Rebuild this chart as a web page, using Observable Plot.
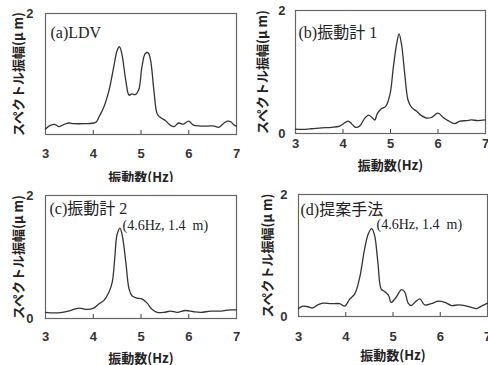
<!DOCTYPE html>
<html><head><meta charset="utf-8">
<script src="https://cdn.jsdelivr.net/npm/d3@7"></script>
<script src="https://cdn.jsdelivr.net/npm/@observablehq/plot@0.6"></script>
<style>
html,body{margin:0;padding:0;background:#fff;}
#wrap{position:relative;width:488px;height:365px;overflow:hidden;background:#fff;}
.panel{position:absolute;}
</style></head><body><div id="wrap"></div>
<script>
const xTicks = [3, 4, 5, 6, 7];
const innerTicks = [4, 5, 6];
const yLabel = "スペクトル振幅(μ m)";
const xLabel = "振動数(Hz)";

const freqA = [3.0,3.1,3.2,3.28,3.38,3.49,3.59,3.8,4.05,4.12,4.22,4.33,4.43,4.5,4.55,4.6,4.68,4.75,4.81,4.88,4.95,5.02,5.09,5.15,5.2,5.27,5.34,5.41,5.51,5.62,5.69,5.79,5.88,6.0,6.1,6.25,6.39,6.53,6.63,6.74,6.81,6.88,6.95,7.0];
const ampA  = [0.09,0.15,0.165,0.13,0.165,0.19,0.18,0.18,0.2,0.29,0.45,0.73,1.12,1.39,1.45,1.33,0.9,0.65,0.67,0.66,0.73,1.12,1.34,1.35,1.23,0.73,0.34,0.28,0.23,0.15,0.13,0.19,0.17,0.22,0.155,0.14,0.14,0.14,0.12,0.19,0.22,0.21,0.155,0.14];

const freqB = [3.0,3.13,3.34,3.55,3.76,3.93,4.04,4.11,4.18,4.26,4.35,4.46,4.54,4.61,4.67,4.72,4.8,4.9,4.99,5.06,5.13,5.18,5.23,5.3,5.37,5.44,5.55,5.65,5.76,5.86,6.0,6.11,6.21,6.35,6.46,6.6,6.7,6.84,7.0];
const ampB  = [0.07,0.066,0.077,0.093,0.1,0.12,0.175,0.2,0.16,0.1,0.12,0.25,0.3,0.26,0.22,0.32,0.4,0.44,0.64,1.08,1.46,1.62,1.46,0.97,0.54,0.43,0.36,0.29,0.25,0.26,0.33,0.26,0.21,0.16,0.2,0.21,0.22,0.21,0.22];

const freqC = [3.0,3.17,3.35,3.52,3.7,3.84,4.01,4.12,4.22,4.33,4.4,4.45,4.5,4.56,4.61,4.68,4.75,4.81,4.92,5.02,5.13,5.23,5.34,5.48,5.62,5.76,5.93,6.1,6.25,6.46,6.67,6.87,7.0];
const ampC  = [0.1,0.09,0.1,0.13,0.17,0.15,0.17,0.24,0.29,0.43,0.6,0.98,1.37,1.47,1.34,0.93,0.48,0.37,0.33,0.32,0.25,0.15,0.1,0.1,0.12,0.1,0.13,0.11,0.1,0.12,0.12,0.14,0.14];

const freqD = [3.0,3.09,3.2,3.3,3.41,3.52,3.69,3.87,3.98,4.08,4.19,4.29,4.4,4.48,4.55,4.61,4.68,4.75,4.82,4.91,4.96,5.07,5.18,5.25,5.32,5.39,5.46,5.57,5.67,5.81,5.95,6.1,6.24,6.38,6.52,6.66,6.77,6.87,7.0];
const ampD  = [0.13,0.17,0.16,0.14,0.19,0.22,0.21,0.21,0.17,0.28,0.37,0.62,1.11,1.36,1.44,1.33,0.89,0.45,0.41,0.34,0.23,0.32,0.44,0.4,0.22,0.18,0.23,0.29,0.19,0.21,0.25,0.23,0.18,0.19,0.18,0.15,0.13,0.17,0.22];

const titles = ["(a)LDV", "(b)振動計 1", "(c)振動計 2", "(d)提案手法"];
const peakNote = "(4.6Hz, 1.4  m)";

const panels = [
  {freq: freqA, amp: ampA, title: titles[0], note: null, yTicks: [2],
   left: 0, top: 0, width: 244, height: 182, mL: 45, mR: 8, mT: 13, mB: 48,
   xPad: 14, xLabOff: 47, yPad: 12, yLabOff: 32, tdx: 5, tdy: 19},
  {freq: freqB, amp: ampB, title: titles[1], note: null, yTicks: [0, 2],
   left: 244, top: 0, width: 244, height: 182, mL: 51, mR: 3, mT: 10, mB: 49,
   xPad: 5, xLabOff: 36, yPad: 10, yLabOff: 38, tdx: 3, tdy: 22},
  {freq: freqC, amp: ampC, title: titles[2], note: peakNote, yTicks: [0, 2],
   left: 0, top: 182, width: 244, height: 183, mL: 45, mR: 8, mT: 13, mB: 47,
   xPad: 13, xLabOff: 44, yPad: 12, yLabOff: 32, tdx: 4, tdy: 13, ndx: 77, ndy: 30},
  {freq: freqD, amp: ampD, title: titles[3], note: peakNote, yTicks: [0, 2],
   left: 244, top: 182, width: 244, height: 183, mL: 54, mR: 1, mT: 12, mB: 49,
   xPad: 15, xLabOff: 43, yPad: 11, yLabOff: 36, tdx: 2, tdy: 15, ndx: 78, ndy: 30}
];

const wrap = document.getElementById("wrap");
const serif = "'Liberation Serif','Times New Roman','Noto Sans CJK JP',serif";
const gothic = "'Noto Sans CJK JP','Liberation Sans',sans-serif";
const digits = "'Liberation Sans',Arial,sans-serif";

for (const p of panels) {
  const data = p.freq.map((f, i) => ({f, a: p.amp[i]}));
  const marks = [
    Plot.frame({stroke: "#666", strokeWidth: 1.2}),
    Plot.axisX({ticks: innerTicks, tickSize: -4, tickFormat: () => "", label: null, stroke: "#444"}),
    Plot.axisX({ticks: xTicks, tickSize: 0, tickPadding: p.xPad, label: xLabel, labelAnchor: "center",
      labelOffset: p.xLabOff, labelArrow: "none", fontSize: 13, fontWeight: "bold", fill: "#333",
      fontFamily: digits, tickFormat: d => String(d)}),
    Plot.axisY({ticks: p.yTicks, tickSize: 0, tickPadding: p.yPad, label: yLabel, labelAnchor: "center",
      labelOffset: p.yLabOff, labelArrow: "none", fontSize: 13, fontWeight: "bold", fill: "#333",
      fontFamily: digits, tickFormat: d => String(d)}),
    Plot.line(data, {x: "f", y: "a", curve: "catmull-rom", stroke: "#333", strokeWidth: 1.3}),
    Plot.text([p.title], {frameAnchor: "top-left", dx: p.tdx, dy: p.tdy, textAnchor: "start",
      lineAnchor: "middle", fontSize: 16, fontFamily: serif, fill: "#222"})
  ];
  if (p.note) {
    marks.push(Plot.text([p.note], {frameAnchor: "top-left", dx: p.ndx, dy: p.ndy, textAnchor: "start",
      lineAnchor: "middle", fontSize: 14, fontFamily: serif, fill: "#222"}));
  }
  const chart = Plot.plot({
    width: p.width, height: p.height,
    marginLeft: p.mL, marginRight: p.mR, marginTop: p.mT, marginBottom: p.mB,
    x: {domain: [3, 7]},
    y: {domain: [0, 2]},
    style: {fontFamily: gothic, background: "#fff", overflow: "visible"},
    marks
  });
  const div = document.createElement("div");
  div.className = "panel";
  div.style.left = p.left + "px";
  div.style.top = p.top + "px";
  div.appendChild(chart);
  wrap.appendChild(div);
}
// bold Japanese axis labels
wrap.querySelectorAll("g[aria-label='x-axis label'] text, g[aria-label='y-axis label'] text").forEach(t => {
  t.setAttribute("font-size", 13);
  t.setAttribute("font-weight", "bold");
  t.setAttribute("font-family", gothic);
  t.setAttribute("fill", "#222");
});
</script>
</body></html>
